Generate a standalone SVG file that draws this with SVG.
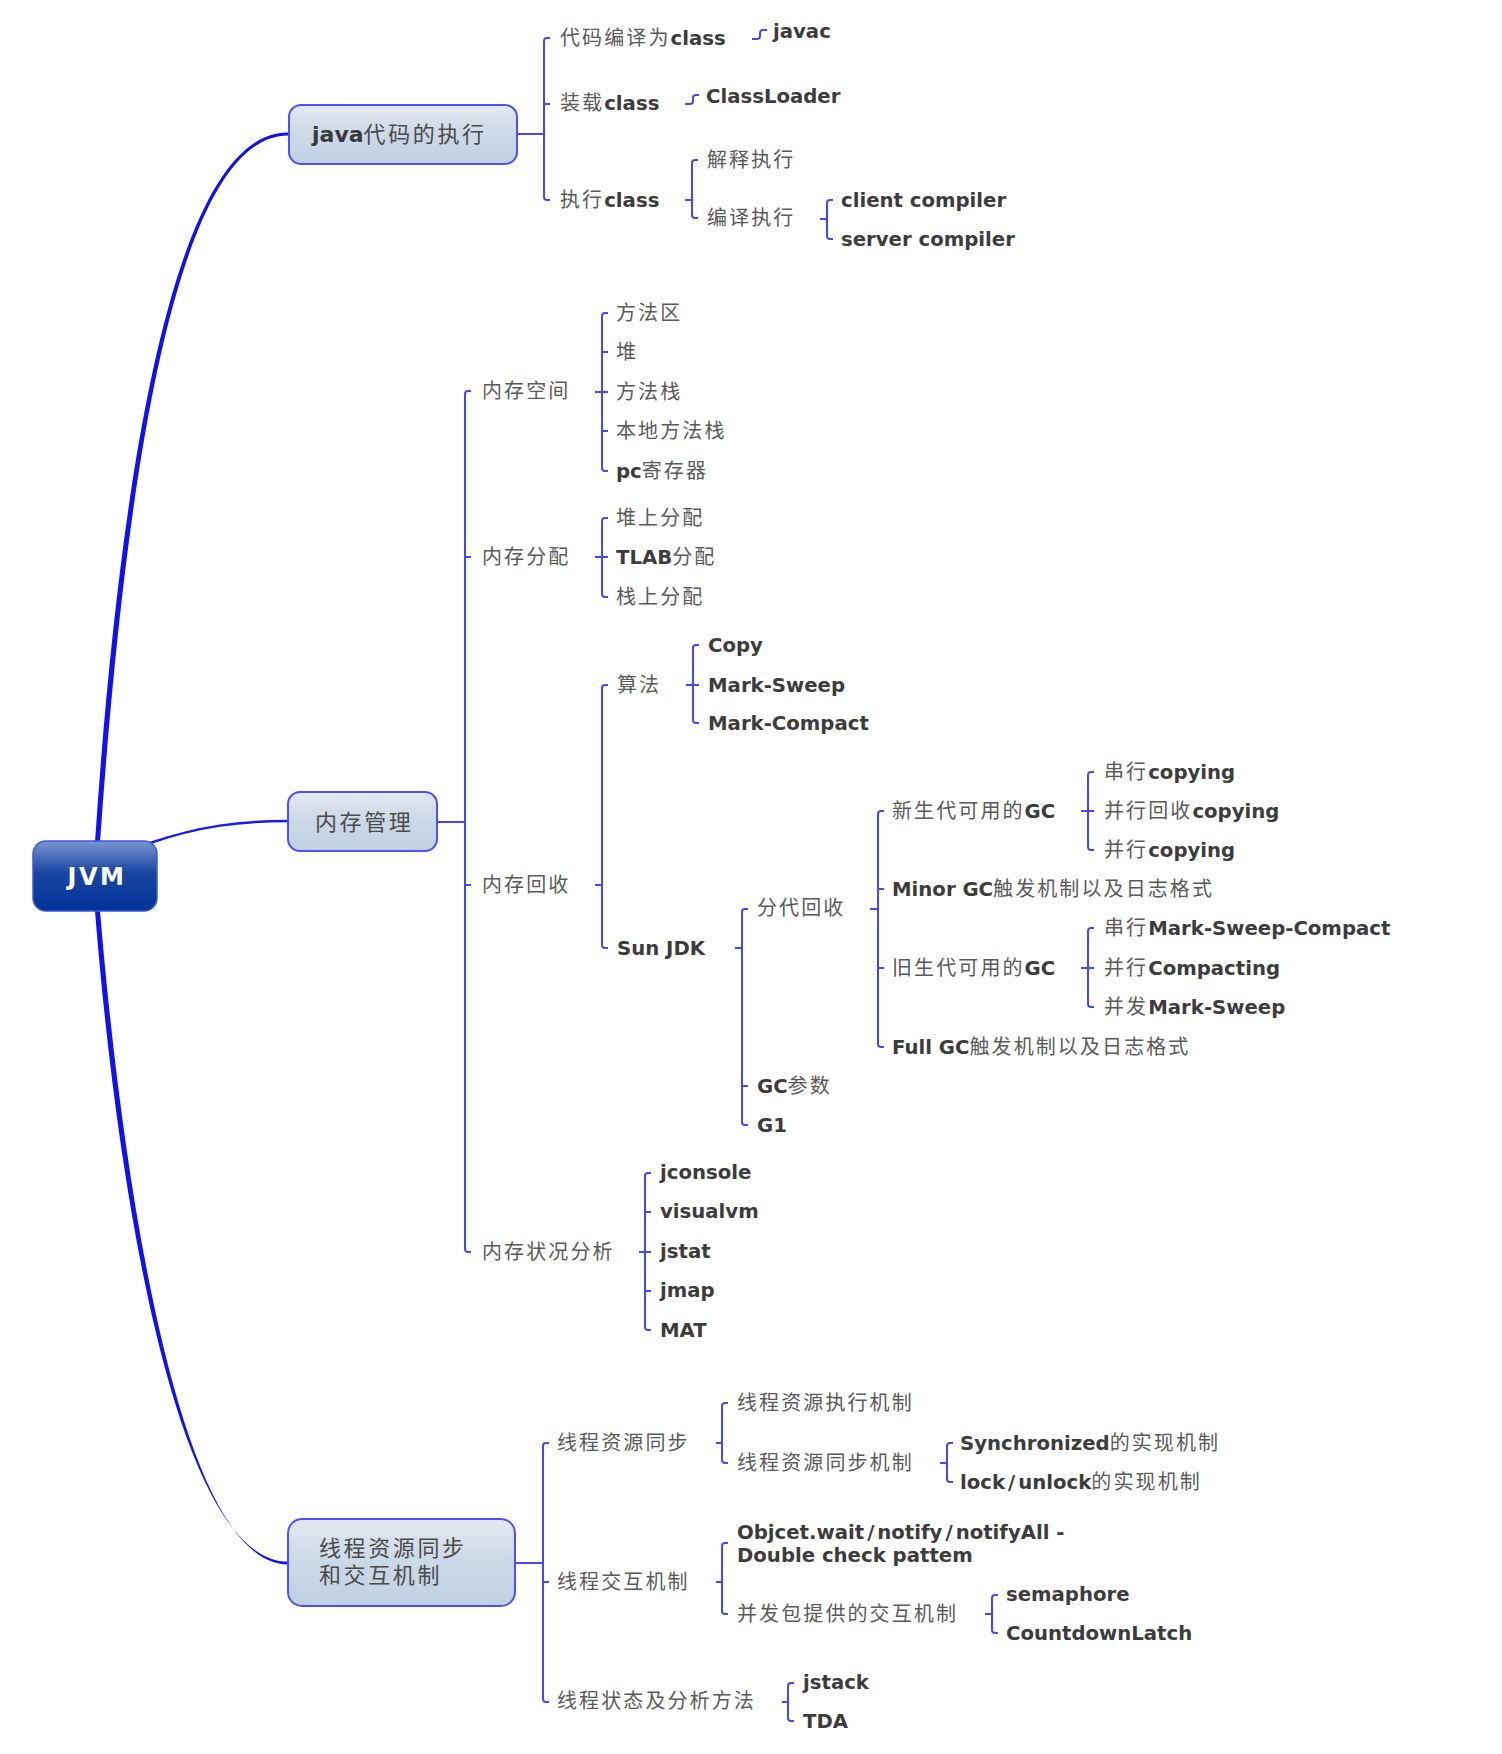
<svg xmlns="http://www.w3.org/2000/svg" width="1502" height="1754" viewBox="0 0 1502 1754">
<defs>
<linearGradient id="gBranch" x1="0" y1="0" x2="0" y2="1">
<stop offset="0" stop-color="#e2e9f2"/>
<stop offset="0.5" stop-color="#cbd8e6"/>
<stop offset="1" stop-color="#c0d1e3"/>
</linearGradient>
<linearGradient id="gRoot" x1="0" y1="0" x2="0" y2="1">
<stop offset="0" stop-color="#7a96d0"/>
<stop offset="0.45" stop-color="#1a46a2"/>
<stop offset="1" stop-color="#003396"/>
</linearGradient>
<style>
.z{font-family:"Noto Sans CJK SC","Noto Sans CJK JP",sans-serif;font-size:20px;letter-spacing:2.1px;fill:#5a5a5a}
.b{font-family:"DejaVu Sans",Verdana,sans-serif;font-weight:bold;font-size:19.7px;fill:#3c3c3c;letter-spacing:0}
.mz{font-family:"Noto Sans CJK SC","Noto Sans CJK JP",sans-serif;font-size:22px;letter-spacing:2.6px;fill:#4a4a4a}
.mb{font-family:"DejaVu Sans",Verdana,sans-serif;font-weight:bold;font-size:22px;fill:#3a3a3a}
.root{font-family:"DejaVu Sans",Verdana,sans-serif;font-weight:bold;font-size:24px;letter-spacing:2.5px;fill:#ffffff}
.box{fill:url(#gBranch);stroke:#4f4fff;stroke-width:2}
.rootbox{fill:url(#gRoot);stroke:#3a5ae0;stroke-width:1.5}
.br{fill:none;stroke:#4646ff;stroke-width:2}
.main{fill:#1010f0;stroke:none}
.mainline{fill:none;stroke:#1a1af0;stroke-width:2.5}
</style>
</defs>
<rect width="1502" height="1754" fill="#ffffff"/>

<g id="connectors">
<path class="main" d="M95,842 C118,500 169,132 288,132.6 L288,135.4 C172,136 124,500 100,842 Z"/>
<path class="mainline" d="M150,843 C200,826 240,821 288,821"/>
<path class="main" d="M95,911 C118,1200 178,1561.6 288,1561.6 L288,1564.4 C182,1564.4 124,1200 100,911 Z"/>
<g class="br">
<path d="M517,134H544 M550,38H547Q544,38 544,41V197Q544,200 547,200H550 M544,104H550"/>
<path d="M752,39H757Q760,39 760,36V33Q760,30 763,30H767"/>
<path d="M685,104H690Q693,104 693,101V98Q693,95 696,95H699"/>
<path d="M685,200H692 M698,160H695Q692,160 692,163V215Q692,218 695,218H698"/>
<path d="M820,219H827 M833,200H830Q827,200 827,203V236Q827,239 830,239H833"/>
<path d="M437,822H465 M471,391H468Q465,391 465,394V1249Q465,1252 468,1252H471 M465,557H471 M465,885H471"/>
<path d="M595,392H602 M608,313H605Q602,313 602,316V468Q602,471 605,471H608 M602,352H608 M602,392H608 M602,431H608"/>
<path d="M595,557H602 M608,518H605Q602,518 602,521V594Q602,597 605,597H608 M602,557H608"/>
<path d="M595,885H602 M608,685H605Q602,685 602,688V945Q602,948 605,948H608"/>
<path d="M686,685H693 M699,645H696Q693,645 693,648V720Q693,723 696,723H699 M693,685H699"/>
<path d="M735,948H742 M748,909H745Q742,909 742,912V1122Q742,1125 745,1125H748 M742,1086H748"/>
<path d="M870,909H878 M884,811H881Q878,811 878,814V1044Q878,1047 881,1047H884 M878,889H884 M878,968H884"/>
<path d="M1081,811H1088 M1094,772H1091Q1088,772 1088,775V847Q1088,850 1091,850H1094 M1088,811H1094"/>
<path d="M1081,968H1088 M1094,928H1091Q1088,928 1088,931V1004Q1088,1007 1091,1007H1094 M1088,968H1094"/>
<path d="M639,1252H645 M651,1173H648Q645,1173 645,1176V1327Q645,1330 648,1330H651 M645,1212H651 M645,1252H651 M645,1291H651"/>
<path d="M515,1563H543 M549,1443H546Q543,1443 543,1446V1699Q543,1702 546,1702H549 M543,1582H549"/>
<path d="M716,1443H722 M728,1403H725Q722,1403 722,1406V1460Q722,1463 725,1463H728"/>
<path d="M940,1463H947 M953,1443H950Q947,1443 947,1446V1479Q947,1482 950,1482H953"/>
<path d="M716,1582H722 M728,1543H725Q722,1543 722,1546V1611Q722,1614 725,1614H728"/>
<path d="M985,1614H992 M998,1595H995Q992,1595 992,1598V1630Q992,1633 995,1633H998"/>
<path d="M782,1702H788 M794,1683H791Q788,1683 788,1686V1718Q788,1721 791,1721H794"/>
</g>
</g>

<g id="jvm"><rect class="rootbox" x="33" y="841" width="124" height="70" rx="13"/><text class="root" x="97" y="885" text-anchor="middle">JVM</text></g>

<g id="java-exec"><rect class="box" x="289" y="105" width="228" height="59" rx="12"/><text x="312" y="142"><tspan class="mb">java</tspan><tspan class="mz">代码的执行</tspan></text></g>
<g id="mem-mgmt"><rect class="box" x="288" y="792" width="149" height="59" rx="12"/><text x="315" y="830"><tspan class="mz">内存管理</tspan></text></g>
<g id="thread-sync"><rect class="box" x="288" y="1519" width="227" height="87" rx="14"/><text class="mz"><tspan x="319" y="1556">线程资源同步</tspan><tspan x="319" y="1583">和交互机制</tspan></text></g>

<g id="n-compile"><text x="560" y="45"><tspan class="z">代码编译为</tspan><tspan class="b">class</tspan></text></g>
<g id="n-javac"><text x="773" y="38"><tspan class="b">javac</tspan></text></g>
<g id="n-load"><text x="560" y="110"><tspan class="z">装载</tspan><tspan class="b">class</tspan></text></g>
<g id="n-classloader"><text x="706" y="103"><tspan class="b">ClassLoader</tspan></text></g>
<g id="n-exec"><text x="560" y="207"><tspan class="z">执行</tspan><tspan class="b">class</tspan></text></g>
<g id="n-interp"><text x="707" y="167"><tspan class="z">解释执行</tspan></text></g>
<g id="n-compile-exec"><text x="707" y="225"><tspan class="z">编译执行</tspan></text></g>
<g id="n-client"><text x="841" y="207"><tspan class="b">client compiler</tspan></text></g>
<g id="n-server"><text x="841" y="246"><tspan class="b">server compiler</tspan></text></g>

<g id="n-mem-space"><text x="482" y="398"><tspan class="z">内存空间</tspan></text></g>
<g id="n-method-area"><text x="616" y="320"><tspan class="z">方法区</tspan></text></g>
<g id="n-heap"><text x="616" y="359"><tspan class="z">堆</tspan></text></g>
<g id="n-method-stack"><text x="616" y="399"><tspan class="z">方法栈</tspan></text></g>
<g id="n-native-stack"><text x="616" y="438"><tspan class="z">本地方法栈</tspan></text></g>
<g id="n-pc"><text x="616" y="478"><tspan class="b">pc</tspan><tspan class="z">寄存器</tspan></text></g>

<g id="n-mem-alloc"><text x="482" y="564"><tspan class="z">内存分配</tspan></text></g>
<g id="n-heap-alloc"><text x="616" y="525"><tspan class="z">堆上分配</tspan></text></g>
<g id="n-tlab"><text x="616" y="564"><tspan class="b">TLAB</tspan><tspan class="z">分配</tspan></text></g>
<g id="n-stack-alloc"><text x="616" y="604"><tspan class="z">栈上分配</tspan></text></g>

<g id="n-gc"><text x="482" y="892"><tspan class="z">内存回收</tspan></text></g>
<g id="n-algo"><text x="617" y="692"><tspan class="z">算法</tspan></text></g>
<g id="n-copy"><text x="708" y="652"><tspan class="b">Copy</tspan></text></g>
<g id="n-mark-sweep"><text x="708" y="692"><tspan class="b">Mark-Sweep</tspan></text></g>
<g id="n-mark-compact"><text x="708" y="730"><tspan class="b">Mark-Compact</tspan></text></g>
<g id="n-sunjdk"><text x="617" y="955"><tspan class="b">Sun JDK</tspan></text></g>
<g id="n-generational"><text x="757" y="915"><tspan class="z">分代回收</tspan></text></g>
<g id="n-gc-params"><text x="757" y="1093"><tspan class="b">GC</tspan><tspan class="z">参数</tspan></text></g>
<g id="n-g1"><text x="757" y="1132"><tspan class="b">G1</tspan></text></g>
<g id="n-young"><text x="892" y="818"><tspan class="z">新生代可用的</tspan><tspan class="b">GC</tspan></text></g>
<g id="n-minor"><text x="892" y="896"><tspan class="b">Minor GC</tspan><tspan class="z">触发机制以及日志格式</tspan></text></g>
<g id="n-old"><text x="892" y="975"><tspan class="z">旧生代可用的</tspan><tspan class="b">GC</tspan></text></g>
<g id="n-full"><text x="892" y="1054"><tspan class="b">Full GC</tspan><tspan class="z">触发机制以及日志格式</tspan></text></g>
<g id="n-serial-copy"><text x="1104" y="779"><tspan class="z">串行</tspan><tspan class="b">copying</tspan></text></g>
<g id="n-par-scavenge"><text x="1104" y="818"><tspan class="z">并行回收</tspan><tspan class="b">copying</tspan></text></g>
<g id="n-par-copy"><text x="1104" y="857"><tspan class="z">并行</tspan><tspan class="b">copying</tspan></text></g>
<g id="n-serial-msc"><text x="1104" y="935"><tspan class="z">串行</tspan><tspan class="b">Mark-Sweep-Compact</tspan></text></g>
<g id="n-par-compact"><text x="1104" y="975"><tspan class="z">并行</tspan><tspan class="b">Compacting</tspan></text></g>
<g id="n-cms"><text x="1104" y="1014"><tspan class="z">并发</tspan><tspan class="b">Mark-Sweep</tspan></text></g>

<g id="n-mem-analysis"><text x="482" y="1259"><tspan class="z">内存状况分析</tspan></text></g>
<g id="n-jconsole"><text x="660" y="1179"><tspan class="b">jconsole</tspan></text></g>
<g id="n-visualvm"><text x="660" y="1218"><tspan class="b">visualvm</tspan></text></g>
<g id="n-jstat"><text x="660" y="1258"><tspan class="b">jstat</tspan></text></g>
<g id="n-jmap"><text x="660" y="1297"><tspan class="b">jmap</tspan></text></g>
<g id="n-mat"><text x="660" y="1337"><tspan class="b">MAT</tspan></text></g>

<g id="n-thread-res-sync"><text x="557" y="1450"><tspan class="z">线程资源同步</tspan></text></g>
<g id="n-thread-exec"><text x="737" y="1410"><tspan class="z">线程资源执行机制</tspan></text></g>
<g id="n-thread-sync-mech"><text x="737" y="1470"><tspan class="z">线程资源同步机制</tspan></text></g>
<g id="n-synchronized"><text x="960" y="1450"><tspan class="b">Synchronized</tspan><tspan class="z">的实现机制</tspan></text></g>
<g id="n-lock"><text x="960" y="1489"><tspan class="b">lock</tspan><tspan class="b" dx="3">/</tspan><tspan class="b" dx="3">unlock</tspan><tspan class="z">的实现机制</tspan></text></g>
<g id="n-thread-interact"><text x="557" y="1589"><tspan class="z">线程交互机制</tspan></text></g>
<g id="n-wait-notify"><text class="b"><tspan x="737" y="1539">Objcet.wait<tspan dx="3">/</tspan><tspan dx="3">notify</tspan><tspan dx="3">/</tspan><tspan dx="3">notifyAll -</tspan></tspan><tspan x="737" y="1562">Double check pattem</tspan></text></g>
<g id="n-juc"><text x="737" y="1621"><tspan class="z">并发包提供的交互机制</tspan></text></g>
<g id="n-semaphore"><text x="1006" y="1601"><tspan class="b">semaphore</tspan></text></g>
<g id="n-latch"><text x="1006" y="1640"><tspan class="b">CountdownLatch</tspan></text></g>
<g id="n-thread-state"><text x="557" y="1708"><tspan class="z">线程状态及分析方法</tspan></text></g>
<g id="n-jstack"><text x="803" y="1689"><tspan class="b">jstack</tspan></text></g>
<g id="n-tda"><text x="803" y="1728"><tspan class="b">TDA</tspan></text></g>
</svg>
